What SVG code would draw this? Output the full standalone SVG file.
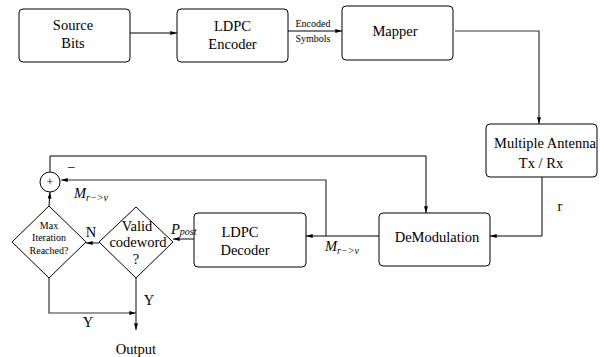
<svg xmlns="http://www.w3.org/2000/svg" width="600" height="357" viewBox="0 0 600 357">
<style>
.box{fill:#fff;stroke:#000;stroke-width:1}
.ln{fill:none;stroke:#000;stroke-width:1}
.gl{fill:none;stroke:#333;stroke-width:1.2}
text{font-family:"Liberation Serif","DejaVu Serif","Times New Roman",Times,serif;fill:#000;text-anchor:middle}
.t{font-size:14.5px}
.it{font-style:italic}
</style>
<defs>
<marker id="ah" viewBox="0 0 10 6" refX="10" refY="3" markerWidth="7" markerHeight="4" orient="auto" markerUnits="userSpaceOnUse">
<path d="M0,0 L10,3 L0,6 Z" fill="#000"/>
</marker>
</defs>
<rect width="600" height="357" fill="#fff"/>
<g id="connectors">
<line class="ln" x1="130" y1="33" x2="177" y2="33" marker-end="url(#ah)"/>
<line class="ln" x1="288" y1="31" x2="342" y2="31" marker-end="url(#ah)"/>
<polyline class="gl" points="455,31 539,31 539,124" marker-end="url(#ah)"/>
<polyline class="ln" points="542,177 542,236 490,236" marker-end="url(#ah)"/>
<line class="ln" x1="379" y1="236" x2="306" y2="236" marker-end="url(#ah)"/>
<polyline class="gl" points="326,236 326,180 61,180" marker-end="url(#ah)"/>
<polyline class="ln" points="50,172 50,156 426,156 426,213" marker-end="url(#ah)"/>
<line class="gl" x1="194" y1="239" x2="173" y2="239" marker-end="url(#ah)"/>
<line class="gl" x1="99" y1="243" x2="86" y2="243" marker-end="url(#ah)"/>
<line class="ln" x1="49" y1="206" x2="50" y2="192" marker-end="url(#ah)"/>
<line class="gl" x1="136" y1="278" x2="136" y2="330" marker-end="url(#ah)"/>
<polyline class="gl" points="49,278 49,313 136,313" marker-end="url(#ah)"/>
</g>
<g id="source">
<rect class="box" x="19" y="9" width="111" height="53" rx="4"/>
<text class="t" x="73" y="30">Source</text>
<text class="t" x="73" y="48">Bits</text>
</g>
<g id="encoder">
<rect class="box" x="177" y="9" width="111" height="53" rx="4"/>
<text class="t" x="232.5" y="31">LDPC</text>
<text class="t" x="232.5" y="49">Encoder</text>
</g>
<g id="mapper">
<rect class="box" x="342" y="6" width="111" height="54" rx="4"/>
<text class="t" x="395" y="36">Mapper</text>
</g>
<g id="antenna">
<rect class="box" x="486" y="124" width="111" height="53" rx="4"/>
<text class="t" x="545" y="148">Multiple Antenna</text>
<text class="t" x="541" y="168">Tx / Rx</text>
</g>
<g id="demod">
<rect class="box" x="379" y="213" width="111" height="53" rx="4"/>
<text class="t" x="437" y="242">DeModulation</text>
</g>
<g id="decoder">
<rect class="box" x="194" y="213" width="112" height="54" rx="4"/>
<text class="t" x="240" y="237">LDPC</text>
<text class="t" x="245" y="255">Decoder</text>
</g>
<g id="sum">
<circle class="box" cx="50" cy="182" r="10"/>
<text x="50" y="186" style="font-size:12px">+</text>
</g>
<g id="maxiter">
<polygon class="box" points="49,206 86,242 49,278 12,242"/>
<text x="49" y="229" style="font-size:10px">Max</text>
<text x="49" y="241" style="font-size:10px">Iteration</text>
<text x="49" y="254" style="font-size:10px">Reached?</text>
</g>
<g id="valid">
<polygon class="box" points="136,207 173,242 136,278 99,242"/>
<text class="t" x="137" y="231">Valid</text>
<text class="t" x="138" y="247">codeword</text>
<text class="t" x="136" y="264">?</text>
</g>
<g id="labels">
<text x="313" y="27" style="font-size:10px">Encoded</text>
<text x="313" y="42" style="font-size:10px">Symbols</text>
<text class="t" x="560" y="211">r</text>
<text class="t" x="71" y="172">−</text>
<text class="t it" x="74" y="198" style="text-anchor:start">M<tspan font-size="10" dy="3">r−&gt;v</tspan></text>
<text class="t it" x="325" y="251" style="text-anchor:start">M<tspan font-size="10" dy="3">r−&gt;v</tspan></text>
<text class="t it" x="171" y="234" style="text-anchor:start">P<tspan font-size="10" dy="1">post</tspan></text>
<text class="t" x="91" y="237">N</text>
<text class="t" x="149" y="305">Y</text>
<text class="t" x="88" y="327">Y</text>
<text class="t" x="136" y="354">Output</text>
</g>
</svg>
